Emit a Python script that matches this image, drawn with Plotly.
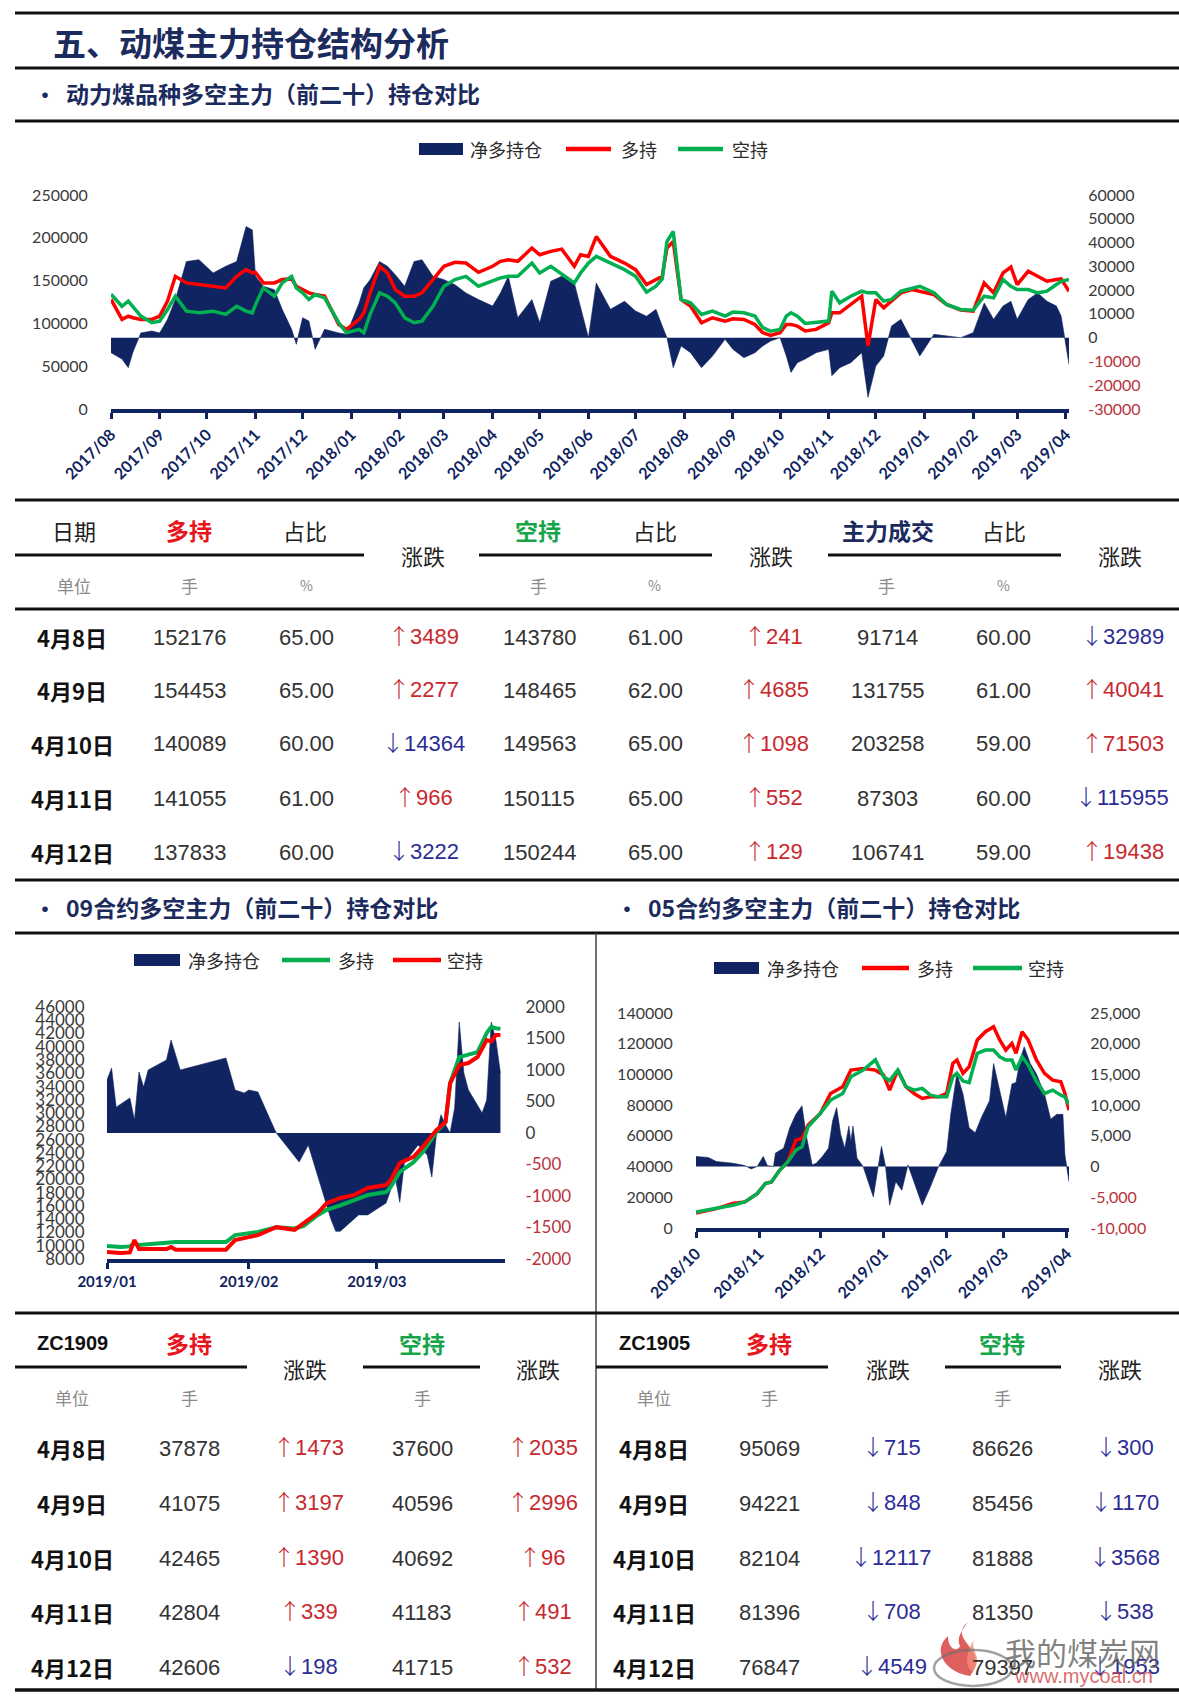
import plotly.graph_objects as go

# ---------------- canvas helpers ----------------
W, H = 1179, 1697
def X(x): return x / W
def Y(y): return 1 - y / H

NAVY = "#0f2461"
RED = "#ff0000"
GREEN = "#00b050"
TITLE_C = "#1c2b5e"
UPC = "#c8282e"
DNC = "#2c2c96"
NEGC = "#b8333a"
CJK = "Noto Sans CJK SC"
NUMF = "Lato, Liberation Sans, sans-serif"
TABF = "Liberation Sans, Noto Sans CJK SC, sans-serif"

# ---------------- data: main chart ----------------
top_dates = [
"2017-08-01","2017-08-08","2017-08-12","2017-08-15","2017-08-20","2017-08-27",
"2017-09-01","2017-09-06","2017-09-11","2017-09-18","2017-09-26",
"2017-10-05","2017-10-13","2017-10-20","2017-10-26","2017-10-30",
"2017-11-01","2017-11-06","2017-11-13","2017-11-18","2017-11-24","2017-11-27",
"2017-12-01","2017-12-05","2017-12-09","2017-12-15","2017-12-24","2017-12-29",
"2018-01-06","2018-01-09","2018-01-13","2018-01-19","2018-01-24","2018-01-29",
"2018-02-04","2018-02-10","2018-02-15","2018-02-22",
"2018-03-01","2018-03-08","2018-03-15","2018-03-23",
"2018-04-01","2018-04-06","2018-04-11","2018-04-17","2018-04-26",
"2018-05-01","2018-05-08","2018-05-15","2018-05-23","2018-05-27",
"2018-06-01","2018-06-06","2018-06-15","2018-06-24",
"2018-07-01","2018-07-08","2018-07-14","2018-07-18","2018-07-21","2018-07-25","2018-07-30",
"2018-08-05","2018-08-12","2018-08-19","2018-08-27",
"2018-09-01","2018-09-08","2018-09-15","2018-09-20","2018-09-25",
"2018-10-01","2018-10-05","2018-10-08","2018-10-12","2018-10-17","2018-10-24",
"2018-11-01","2018-11-03","2018-11-08","2018-11-15","2018-11-22","2018-11-26",
"2018-12-01","2018-12-06","2018-12-11","2018-12-17","2018-12-24","2018-12-29",
"2019-01-07","2019-01-15","2019-01-24",
"2019-02-01","2019-02-08","2019-02-14","2019-02-20","2019-02-25",
"2019-03-01","2019-03-08","2019-03-14","2019-03-20","2019-03-26","2019-03-29",
"2019-04-03"]
top_long = [128000,104700,108500,106600,104700,104700,
108500,126000,155000,147300,145400,
143400,141500,155000,162800,159000,
159700,147300,147300,151200,152000,143400,
139500,135700,133700,131800,98800,93000,
104700,112400,135700,166700,159000,139500,
131800,131800,135700,151200,
166700,171300,170500,159700,
166700,172500,174400,172500,188000,
180200,184100,186800,166700,180200,
178300,201500,178300,170500,
162800,145400,151200,155000,188000,195700,128000,
120200,100800,106600,102700,
105400,104700,98800,89100,86000,
89100,98800,98800,96900,91100,93000,
100800,112400,112400,122100,131800,73600,
127900,118200,126000,135700,139500,137600,
133700,122100,115500,
114300,147300,135700,158900,165900,
145400,160900,155000,149200,151200,152000,
137600]
top_short = [134000,120000,126000,120000,108500,100800,
102700,116300,131800,114300,112400,
114300,110500,120000,114300,112400,
122000,141500,131800,147300,155000,141500,
135700,128000,133700,129800,100800,89100,
93000,89100,110500,135700,131800,124000,
106600,100800,102700,120000,
143400,151200,155000,143400,
149200,153100,155000,155000,170500,
158900,166700,158100,147300,158900,
170500,178300,170500,162800,
155000,136400,143400,152000,195700,207400,128000,
124000,110500,114300,108500,
113200,112400,108500,95000,91000,
93000,108500,112400,108500,100000,100800,
102700,137600,124000,131800,137600,135700,
135700,126000,128000,137600,141500,143400,
135700,122100,116300,
115500,131800,129800,151200,143400,
139500,139500,135700,137600,145400,149200,
151200]
top_net = [-6300,-9000,-12600,-6000,2000,2800,
2000,7700,16000,32000,32800,
27200,30000,32000,46700,45300,
25800,21600,20200,11900,3500,-2800,
8400,7000,-4900,3500,2000,1400,
14600,21000,24400,32000,30000,26500,
21600,32000,32800,25800,
24400,22300,18800,16000,
13300,18800,25800,8400,16000,
6300,23700,25800,23000,13300,
0,23000,11900,15300,
11200,9000,11900,4900,0,-12600,-3500,
-6300,-12600,-7700,-700,
-4900,-8400,-6300,-3500,-1400,
0,-7700,-14600,-10500,-9000,-6300,
-4900,-16000,-12600,-10500,-6300,-25100,
-11900,-7700,4900,7700,-1400,-7700,
1400,700,0,
2100,14600,7700,13300,15300,
7700,16000,18800,15300,13300,9000,
-11200]
top_month_ticks = ["2017-08-01","2017-09-01","2017-10-01","2017-11-01","2017-12-01",
"2018-01-01","2018-02-01","2018-03-01","2018-04-01","2018-05-01","2018-06-01",
"2018-07-01","2018-08-01","2018-09-01","2018-10-01","2018-11-01","2018-12-01",
"2019-01-01","2019-02-01","2019-03-01","2019-04-01"]
top_month_labels = ["2017/08","2017/09","2017/10","2017/11","2017/12",
"2018/01","2018/02","2018/03","2018/04","2018/05","2018/06",
"2018/07","2018/08","2018/09","2018/10","2018/11","2018/12",
"2019/01","2019/02","2019/03","2019/04"]
top_left_ticks = [0, 50000, 100000, 150000, 200000, 250000]
top_right_ticks = [-30000, -20000, -10000, 0, 10000, 20000, 30000, 40000, 50000, 60000]

# ---------------- data: 09 contract ----------------
c09_net_dates = ["2019-01-01","2019-01-02","2019-01-03","2019-01-06","2019-01-07","2019-01-08",
"2019-01-09","2019-01-10","2019-01-14","2019-01-15","2019-01-17","2019-01-27","2019-01-29",
"2019-01-31","2019-02-01","2019-02-03","2019-02-06","2019-02-07","2019-02-12","2019-02-14",
"2019-02-19","2019-02-20","2019-02-21","2019-02-23","2019-02-25","2019-02-27","2019-03-03",
"2019-03-05","2019-03-06","2019-03-07","2019-03-10","2019-03-12","2019-03-13","2019-03-14",
"2019-03-15","2019-03-16","2019-03-17","2019-03-18","2019-03-19","2019-03-20","2019-03-21",
"2019-03-24","2019-03-25","2019-03-26","2019-03-27","2019-03-28"]
c09_net = [841,1030,410,556,206,968,730,1000,1159,1476,1000,1190,683,635,683,651,159,0,
-460,-190,-1381,-1560,-1560,-1430,-1300,-1300,-1111,-700,-1100,-476,-190,-350,-700,-30,
290,130,0,400,1762,952,683,317,524,1762,1476,952]
c09_dates = ["2019-01-01","2019-01-04","2019-01-06","2019-01-07","2019-01-08","2019-01-14",
"2019-01-15","2019-01-16","2019-01-27","2019-01-29","2019-02-03","2019-02-07","2019-02-11",
"2019-02-13","2019-02-16","2019-02-18","2019-02-21","2019-02-24","2019-02-27","2019-03-03",
"2019-03-04","2019-03-06","2019-03-09","2019-03-11","2019-03-14","2019-03-16","2019-03-17",
"2019-03-19","2019-03-21","2019-03-23","2019-03-25","2019-03-26","2019-03-27","2019-03-28"]
c09_long = [9960,9800,9900,10400,10100,10500,10560,10560,10560,11600,12070,12800,12600,13000,
14600,15400,16100,16900,17650,18100,18860,21120,22600,24100,27150,28650,34500,38450,38760,
39200,42080,43000,42800,42700]
c09_short = [9060,8900,9000,10860,9500,9500,9800,9400,9400,10860,11600,12800,12400,13400,
14900,16400,17200,17650,18700,19150,19900,22470,23400,24900,27450,28650,34500,37250,37550,
38460,41000,40800,41780,41780]
c09_ticks = ["2019-01-01","2019-02-01","2019-03-01"]
c09_tick_labels = ["2019/01","2019/02","2019/03"]
c09_left_ticks = [8000,10000,12000,14000,16000,18000,20000,22000,24000,26000,28000,30000,
32000,34000,36000,38000,40000,42000,44000,46000]
c09_right_ticks = [-2000,-1500,-1000,-500,0,500,1000,1500,2000]

# ---------------- data: 05 contract ----------------
c05_net_dates = ["2018-10-01","2018-10-07","2018-10-11","2018-10-19","2018-10-25","2018-10-28",
"2018-10-31","2018-11-03","2018-11-05","2018-11-08","2018-11-09","2018-11-13","2018-11-16",
"2018-11-19","2018-11-22","2018-11-24","2018-11-27","2018-11-29","2018-12-02","2018-12-05",
"2018-12-07","2018-12-09","2018-12-11","2018-12-13","2018-12-15","2018-12-16","2018-12-17",
"2018-12-19","2018-12-22","2018-12-27","2018-12-29","2018-12-31","2019-01-02","2019-01-04",
"2019-01-07","2019-01-10","2019-01-13","2019-01-16","2019-01-20","2019-01-24","2019-01-28",
"2019-02-01","2019-02-03","2019-02-06","2019-02-09","2019-02-12","2019-02-15","2019-02-18",
"2019-02-22","2019-02-24","2019-02-27","2019-03-02","2019-03-05","2019-03-07","2019-03-09",
"2019-03-11","2019-03-14","2019-03-17","2019-03-21","2019-03-24","2019-03-27","2019-03-30",
"2019-03-31","2019-04-02"]
c05_net = [1650,1480,820,550,160,-380,0,1650,160,0,2200,3000,6300,8500,9900,5200,275,550,
1650,3000,7400,9600,5200,3000,6600,4100,6600,1370,0,-4950,-820,3300,0,-6300,-2470,-3850,
275,-2470,-6300,-3300,0,2470,8500,15100,11800,6300,5500,8000,10700,16760,12400,8000,
13460,13700,17300,19500,16760,15100,11800,7700,8500,8500,1900,-2470]
c05_dates = ["2018-10-01","2018-10-11","2018-10-19","2018-10-25","2018-10-31","2018-11-04",
"2018-11-07","2018-11-11","2018-11-15","2018-11-19","2018-11-22","2018-11-25","2018-12-01",
"2018-12-06","2018-12-12","2018-12-16","2018-12-22","2018-12-28","2019-01-01","2019-01-04",
"2019-01-08","2019-01-12","2019-01-16","2019-01-20","2019-01-24","2019-01-28","2019-02-01",
"2019-02-04","2019-02-06","2019-02-09","2019-02-12","2019-02-16","2019-02-20","2019-02-24",
"2019-02-27","2019-03-02","2019-03-05","2019-03-07","2019-03-10","2019-03-13","2019-03-17",
"2019-03-21","2019-03-25","2019-03-29","2019-03-31","2019-04-02"]
c05_long = [9800,12600,15900,17000,22400,28900,30000,37600,43000,57200,58300,67000,74600,
87600,92000,102800,103900,102800,99600,89800,102800,92000,87600,84400,85400,85400,87600,
107200,109400,100700,105000,122400,127800,131100,122400,115900,120200,113700,127800,
122400,109400,100700,96300,95200,87600,76700]
c05_short = [10400,12600,14800,17000,22400,28900,30000,37600,43000,50700,52900,65900,74600,
83300,87600,98500,102800,109500,98500,96000,102800,92000,89800,90900,86500,85400,85400,
98500,100700,95700,94600,113700,115900,115900,111500,109400,109400,102800,111500,106100,
95700,87600,89800,86500,85400,80500]
c05_ticks = ["2018-10-01","2018-11-01","2018-12-01","2019-01-01","2019-02-01","2019-03-01","2019-04-01"]
c05_tick_labels = ["2018/10","2018/11","2018/12","2019/01","2019/02","2019/03","2019/04"]
c05_left_ticks = [0,20000,40000,60000,80000,100000,120000,140000]
c05_right_ticks = [-10000,-5000,0,5000,10000,15000,20000,25000]

# ---------------- data: tables ----------------
days = ["4月8日","4月9日","4月10日","4月11日","4月12日"]
main_long = [152176,154453,140089,141055,137833]
main_long_pct = ["65.00","65.00","60.00","61.00","60.00"]
main_long_chg = [3489,2277,-14364,966,-3222]
main_short = [143780,148465,149563,150115,150244]
main_short_pct = ["61.00","62.00","65.00","65.00","65.00"]
main_short_chg = [241,4685,1098,552,129]
main_vol = [91714,131755,203258,87303,106741]
main_vol_pct = ["60.00","61.00","59.00","60.00","59.00"]
main_vol_chg = [-32989,40041,71503,-115955,19438]
zc1909_long = [37878,41075,42465,42804,42606]
zc1909_long_chg = [1473,3197,1390,339,-198]
zc1909_short = [37600,40596,40692,41183,41715]
zc1909_short_chg = [2035,2996,96,491,532]
zc1905_long = [95069,94221,82104,81396,76847]
zc1905_long_chg = [-715,-848,-12117,-708,-4549]
zc1905_short = [86626,85456,81888,81350,79397]
zc1905_short_chg = [-300,-1170,-3568,-538,-1953]

# ---------------- figure ----------------
fig = go.Figure()
def area(x, y, xa, ya):
    fig.add_trace(go.Scatter(x=x, y=y, xaxis=xa, yaxis=ya, mode="lines", fill="tozeroy",
                             fillcolor=NAVY, line=dict(color=NAVY, width=0.6),
                             showlegend=False, hoverinfo="skip"))
def line(x, y, xa, ya, color, w):
    fig.add_trace(go.Scatter(x=x, y=y, xaxis=xa, yaxis=ya, mode="lines",
                             line=dict(color=color, width=w), showlegend=False, hoverinfo="skip"))

area(top_dates, top_net, "x", "y")
line(top_dates, top_long, "x", "y2", RED, 3.5)
line(top_dates, top_short, "x", "y2", GREEN, 3.5)
area(c09_net_dates, c09_net, "x2", "y3")
line(c09_dates, c09_long, "x2", "y4", GREEN, 4)
line(c09_dates, c09_short, "x2", "y4", RED, 4)
area(c05_net_dates, c05_net, "x3", "y5")
line(c05_dates, c05_long, "x3", "y6", RED, 3.5)
line(c05_dates, c05_short, "x3", "y6", GREEN, 3.5)

def neg_red(vals, fmt):
    out = []
    for v in vals:
        s = fmt(v)
        out.append(f"<span style='color:{NEGC}'>{s}</span>" if v < 0 else s)
    return out

def xax(domain, anchor, rng, tv, tt, angle, size=16):
    return dict(domain=domain, anchor=anchor, type="date", range=rng, tickvals=tv,
                ticktext=[f"<b>{t}</b>" for t in tt], tickangle=angle,
                tickfont=dict(family=NUMF, size=size, color=NAVY),
                showline=True, linecolor=NAVY, linewidth=4, ticks="outside", ticklen=6,
                tickwidth=3, tickcolor=NAVY, showgrid=False, zeroline=False,
                automargin=False, fixedrange=True)

def yax(domain, anchor, side, rng, tv, tt, standoff, size, overlay=None):
    d = dict(anchor=anchor, side=side, range=rng, tickvals=tv, ticktext=tt,
             showgrid=False, zeroline=False, showline=False, ticks="outside",
             ticklen=standoff, tickcolor="rgba(0,0,0,0)",
             tickfont=dict(family=NUMF, size=size, color="#3a3a3a"),
             automargin=False, fixedrange=True)
    if overlay:
        d["overlaying"] = overlay
    else:
        d["domain"] = domain
    return d

layout = dict(
    width=W, height=H, autosize=False, margin=dict(l=0, r=0, t=0, b=0),
    paper_bgcolor="white", plot_bgcolor="rgba(0,0,0,0)", showlegend=False,
    xaxis=xax([X(111), X(1069)], "y", ["2017-08-01", "2019-04-03"], top_month_ticks, top_month_labels, -45),
    yaxis=yax([Y(409), Y(195)], "x", "right", [-30000, 60000], top_right_ticks,
              neg_red(top_right_ticks, lambda v: str(v)), 15, 16),
    yaxis2=yax(None, "x", "left", [0, 250000], top_left_ticks, [str(v) for v in top_left_ticks], 19, 16, overlay="y"),
    xaxis2=xax([X(107), X(505)], "y3", ["2019-01-01", "2019-03-29"], c09_ticks, c09_tick_labels, 0, 15),
    yaxis3=yax([Y(1259), Y(1007)], "x2", "right", [-2000, 2000], c09_right_ticks,
               neg_red(c09_right_ticks, lambda v: str(v)), 16, 17),
    yaxis4=yax(None, "x2", "left", [8000, 46000], c09_left_ticks, [str(v) for v in c09_left_ticks], 18, 17, overlay="y3"),
    xaxis3=xax([X(696), X(1069)], "y5", ["2018-10-01", "2019-04-02"], c05_ticks, c05_tick_labels, -45),
    yaxis5=yax([Y(1228), Y(1013)], "x3", "right", [-10000, 25000], c05_right_ticks,
               neg_red(c05_right_ticks, lambda v: f"{v:,}"), 17, 16),
    yaxis6=yax(None, "x3", "left", [0, 140000], c05_left_ticks, [str(v) for v in c05_left_ticks], 19, 16, overlay="y5"),
)

ann = []
shp = []
def txt(x, y, s, size, color="#222222", anchor="center", family=CJK, bold=False):
    ann.append(dict(x=X(x), y=Y(y), xref="paper", yref="paper", text=(f"<b>{s}</b>" if bold else s),
                    showarrow=False, xanchor=anchor, yanchor="middle",
                    font=dict(size=size, color=color, family=family)))
def hline(y, x0, x1, w=3, color="#111111"):
    shp.append(dict(type="line", xref="paper", yref="paper", x0=X(x0), x1=X(x1), y0=Y(y), y1=Y(y),
                    line=dict(color=color, width=w)))
def vline(x, y0, y1, w=1.5, color="#444444"):
    shp.append(dict(type="line", xref="paper", yref="paper", x0=X(x), x1=X(x), y0=Y(y0), y1=Y(y1),
                    line=dict(color=color, width=w)))
def rect(x0, y0, x1, y1, color):
    shp.append(dict(type="rect", xref="paper", yref="paper", x0=X(x0), x1=X(x1), y0=Y(y1), y1=Y(y0),
                    fillcolor=color, line=dict(width=0)))
ARROW = "<span style='font-family:Noto Sans CJK SC;font-weight:300'>{}</span>"
def chg(v):
    if v >= 0:
        return ARROW.format("↑") + str(v), UPC
    return ARROW.format("↓") + str(-v), DNC
CHG_DY = -3  # mixed-font cells sit a little low

# ---- headings and rules ----
hline(13, 15, W, 3)
txt(51, 42, "五、动煤主力持仓结构分析", 33, TITLE_C, "left", bold=True)
hline(68, 15, W, 3)
txt(45, 93, "•", 22, TITLE_C, "center", bold=True)
txt(64, 93, "动力煤品种多空主力（前二十）持仓对比", 23, TITLE_C, "left", bold=True)
hline(121, 15, W, 3)

# ---- legends ----
def legend(y, items):
    for kind, x0, x1, color, label, tx in items:
        if kind == "box":
            rect(x0, y - 6, x1, y + 6, color)
        else:
            hline(y, x0, x1, 4.5, color)
        txt(tx, y, label, 18, "#2a2a2a", "left")
legend(149, [("box", 419, 463, NAVY, "净多持仓", 468), ("line", 566, 611, RED, "多持", 619),
             ("line", 678, 723, GREEN, "空持", 730)])
legend(960, [("box", 134, 180, NAVY, "净多持仓", 186), ("line", 282, 330, GREEN, "多持", 336),
             ("line", 393, 441, RED, "空持", 445)])
legend(968, [("box", 714, 759, NAVY, "净多持仓", 765), ("line", 862, 909, RED, "多持", 915),
             ("line", 973, 1022, GREEN, "空持", 1026)])

# ---- main table ----
hline(500, 15, W, 3)
txt(74, 530, "日期", 22)
txt(189, 530, "多持", 23, "#e8141c", bold=True)
txt(305, 530, "占比", 22)
txt(538, 530, "空持", 23, "#17a54a", bold=True)
txt(655, 530, "占比", 22)
txt(888, 530, "主力成交", 23, TITLE_C, bold=True)
txt(1004, 530, "占比", 22)
for xc in (423, 771, 1120):
    txt(xc, 555, "涨跌", 22)
hline(555, 15, 364, 3)
hline(555, 479, 712, 3)
hline(555, 828, 1061, 3)
for xc, s in ((74, "单位"), (189, "手"), (306, "%"), (538, "手"), (654, "%"), (886, "手"), (1003, "%")):
    txt(xc, 585, s, 17 if s != "%" else 14, "#8a8a8a")
hline(609, 15, W, 3)
rows_y = [637, 690, 744, 798, 852]
for i, yy in enumerate(rows_y):
    txt(72, yy, days[i], 22, "#111111", bold=True)
    txt(189, yy, str(main_long[i]), 22, "#333333", family=TABF)
    txt(306, yy, main_long_pct[i], 22, "#333333", family=TABF)
    s, c = chg(main_long_chg[i]); txt(423, yy + CHG_DY, s, 22, c, family=TABF)
    txt(539, yy, str(main_short[i]), 22, "#333333", family=TABF)
    txt(655, yy, main_short_pct[i], 22, "#333333", family=TABF)
    s, c = chg(main_short_chg[i]); txt(773, yy + CHG_DY, s, 22, c, family=TABF)
    txt(887, yy, str(main_vol[i]), 22, "#333333", family=TABF)
    txt(1004, yy, main_vol_pct[i], 22, "#333333", family=TABF)
    s, c = chg(main_vol_chg[i]); txt(1122, yy + CHG_DY, s, 22, c, family=TABF)
hline(880, 15, W, 3)

# ---- lower headings ----
txt(45, 907, "•", 22, TITLE_C, bold=True)
txt(64, 907, "09合约多空主力（前二十）持仓对比", 23, TITLE_C, "left", bold=True)
txt(627, 907, "•", 22, TITLE_C, bold=True)
txt(646, 907, "05合约多空主力（前二十）持仓对比", 23, TITLE_C, "left", bold=True)
hline(933, 15, W, 3)
vline(596, 933, 1690)

# ---- lower tables ----
hline(1313, 15, W, 3)
def small_table(x_date, x_long, x_lchg, x_short, x_schg, code, seg1, seg2, longs, lchg, shorts, schg):
    txt(x_date, 1343, code, 20, "#111111", family="Liberation Sans", bold=True)
    txt(x_long, 1343, "多持", 23, "#e8141c", bold=True)
    txt(x_short, 1343, "空持", 23, "#17a54a", bold=True)
    txt(x_lchg, 1368, "涨跌", 22)
    txt(x_schg, 1368, "涨跌", 22)
    hline(1367, seg1[0], seg1[1], 3)
    hline(1367, seg2[0], seg2[1], 3)
    txt(x_date, 1397, "单位", 17, "#8a8a8a")
    txt(x_long, 1397, "手", 17, "#8a8a8a")
    txt(x_short, 1397, "手", 17, "#8a8a8a")
    for i, yy in enumerate([1448, 1503, 1558, 1612, 1667]):
        txt(x_date, yy, days[i], 22, "#111111", bold=True)
        txt(x_long, yy, str(longs[i]), 22, "#333333", family=TABF)
        s, c = chg(lchg[i]); txt(x_lchg + 3, yy + CHG_DY, s, 22, c, family=TABF)
        txt(x_short, yy, str(shorts[i]), 22, "#333333", family=TABF)
        s, c = chg(schg[i]); txt(x_schg + 4, yy + CHG_DY, s, 22, c, family=TABF)
small_table(72, 189, 305, 422, 538, "ZC1909", (15, 247), (363, 480),
            zc1909_long, zc1909_long_chg, zc1909_short, zc1909_short_chg)
small_table(654, 769, 888, 1002, 1120, "ZC1905", (596, 828), (945, 1061),
            zc1905_long, zc1905_long_chg, zc1905_short, zc1905_short_chg)
hline(1690, 15, W, 3.5)

# ---- watermark (decoration) ----
def P(pts):
    return " ".join(f"{X(a):.5f},{Y(b):.5f}" for a, b in pts)
flame_outer = ("M " + P([(968, 1622)]) + " C " + P([(946, 1640), (992, 1650), (970, 1676)]) +
               " C " + P([(944, 1672), (932, 1650), (948, 1636)]) +
               " C " + P([(948, 1650), (958, 1652), (960, 1646)]) +
               " C " + P([(956, 1638), (962, 1630), (968, 1622)]) + " Z")
flame_inner = ("M " + P([(976, 1636)]) + " C " + P([(966, 1650), (986, 1656), (972, 1672)]) +
               " C " + P([(964, 1664), (966, 1652), (976, 1636)]) + " Z")
shp.append(dict(type="path", xref="paper", yref="paper", path=flame_outer,
                fillcolor="rgba(215,55,55,0.8)", line=dict(width=0)))
shp.append(dict(type="path", xref="paper", yref="paper", path=flame_inner,
                fillcolor="rgba(240,140,120,0.8)", line=dict(width=0)))
shp.append(dict(type="circle", xref="paper", yref="paper", x0=X(934), x1=X(1012), y0=Y(1686), y1=Y(1650),
                line=dict(color="rgba(110,110,110,0.65)", width=2.5)))
txt(1082, 1651, "我的煤炭网", 31, "rgba(95,95,95,0.8)")
txt(1083, 1676, "www.mycoal.cn", 20, "rgba(205,70,70,0.8)", family="Liberation Sans")

layout["annotations"] = ann
layout["shapes"] = shp
fig.update_layout(**layout)
fig.write_html("out.html", config={"displayModeBar": False, "staticPlot": True},
               post_script="document.body.style.margin='0px';document.body.style.overflow='hidden';")
